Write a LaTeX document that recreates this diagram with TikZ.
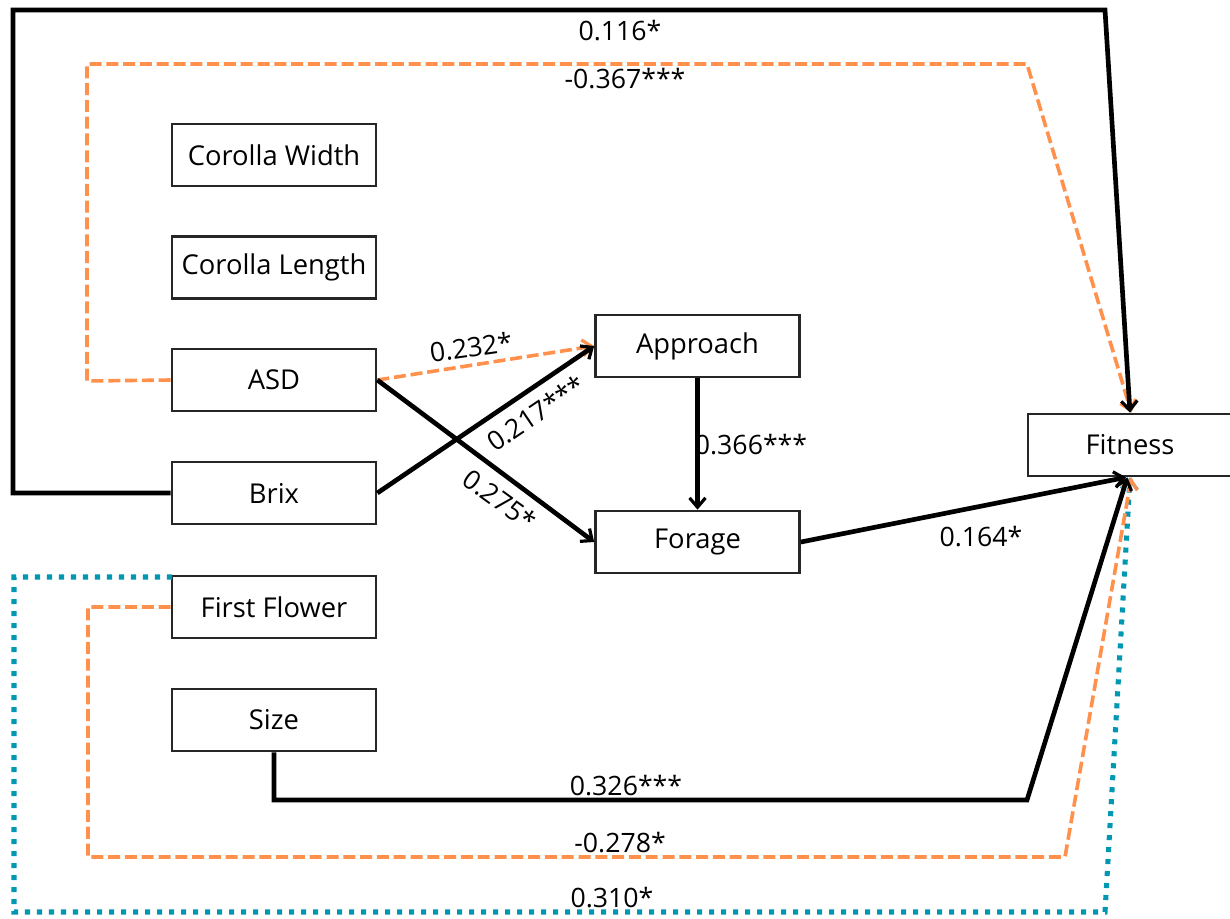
\documentclass[tikz,border=0pt]{standalone}
\usepackage{fontspec}
\setmainfont{Open Sans}
\usetikzlibrary{arrows.meta}
\definecolor{corange}{HTML}{FF914D}
\definecolor{cteal}{HTML}{0097B2}
\tikzset{
  varbox/.style={draw=black!85, line width=2pt, minimum width=153pt, minimum height=46.5pt, inner sep=0pt, font=\fontsize{20.5}{24}\selectfont, fill=white},
  blk/.style={line width=3.5pt, black},
  org/.style={line width=2.7pt, corange, dash pattern=on 9pt off 3.6pt},
  tea/.style={line width=3.8pt, cteal, dash pattern=on 3.8pt off 5.2pt},
  tip/.style={-{Straight Barb[length=7pt,width=12pt,line width=2.4pt]}},
  lbl/.style={font=\fontsize{20}{24}\selectfont, inner sep=1pt}
}
\begin{document}
\begin{tikzpicture}[x=0.75pt,y=-0.75pt]
\useasboundingbox (0,0) rectangle (1230,918);
% boxes
\node[varbox] (cw) at (274,155) {Corolla Width};
\node[varbox] (cl) at (274,267.5) {Corolla Length};
\node[varbox] (asd) at (274,380) {ASD};
\node[varbox] (brix) at (274,493) {Brix};
\node[varbox] (ff) at (274,607) {First Flower};
\node[varbox] (size) at (274,720) {Size};
\node[varbox] (app) at (697.5,346) {Approach};
\node[varbox] (for) at (697.5,542) {Forage};
\node[varbox] (fit) at (1130,445) {Fitness};
% coordinates
\coordinate (b1) at (13,493);
\coordinate (b2) at (13,10);
\coordinate (b3) at (1105,10);
\coordinate (o1) at (87,381);
\coordinate (o2) at (87,64);
\coordinate (o3) at (1027,64);
\coordinate (s1) at (274,800);
\coordinate (s2) at (1027,800);
\coordinate (f1) at (88,607);
\coordinate (f2) at (88,857);
\coordinate (f3) at (1065,857);
\coordinate (t0) at (172,577);
\coordinate (t1) at (14,577);
\coordinate (t2) at (14,912);
\coordinate (t3) at (1105,912);
% top loops
\draw[org, tip] (asd.west) -- (o1) -- (o2) -- (o3) -- ([xshift=1pt]fit.north);
\draw[blk, tip, line join=miter] (brix.west) -- (b1) -- (b2) -- (b3) -- (fit.north);
\node[lbl] (l116) at (620,31) {0.116*};
\node[lbl] (l367) at (625,79) {-0.367***};
% middle
\draw[org, tip] (asd.east) -- (app.west);
\draw[blk, tip] (asd.east) -- (for.west);
\draw[blk, tip] (brix.east) -- (app.west);
\draw[blk, tip] (app.south) -- (for.north);
\draw[blk, tip] (for.east) -- ([xshift=-3pt]fit.south);
\node[lbl, rotate=8] (l232) at (471,347) {0.232*};
\node[lbl, rotate=34] (l217) at (536,413) {0.217***};
\node[lbl, rotate=-36] (l275) at (500,500) {0.275*};
\node[lbl] (l366) at (751,445) {0.366***};
\node[lbl] (l164) at (981,537) {0.164*};
% bottom loops
\draw[tea, tip] (t0) -- (t1) -- (t2) -- (t3) -- (fit.south);
\draw[org, tip] (ff.west) -- (f1) -- (f2) -- (f3) -- ([xshift=1pt]fit.south);
\draw[blk, tip] (size.south) -- (s1) -- (s2) -- ([xshift=-2pt]fit.south);
\node[lbl] (l326) at (626,786) {0.326***};
\node[lbl] (l278) at (620,843) {-0.278*};
\node[lbl] (l310) at (612,898) {0.310*};
\end{tikzpicture}
\end{document}
